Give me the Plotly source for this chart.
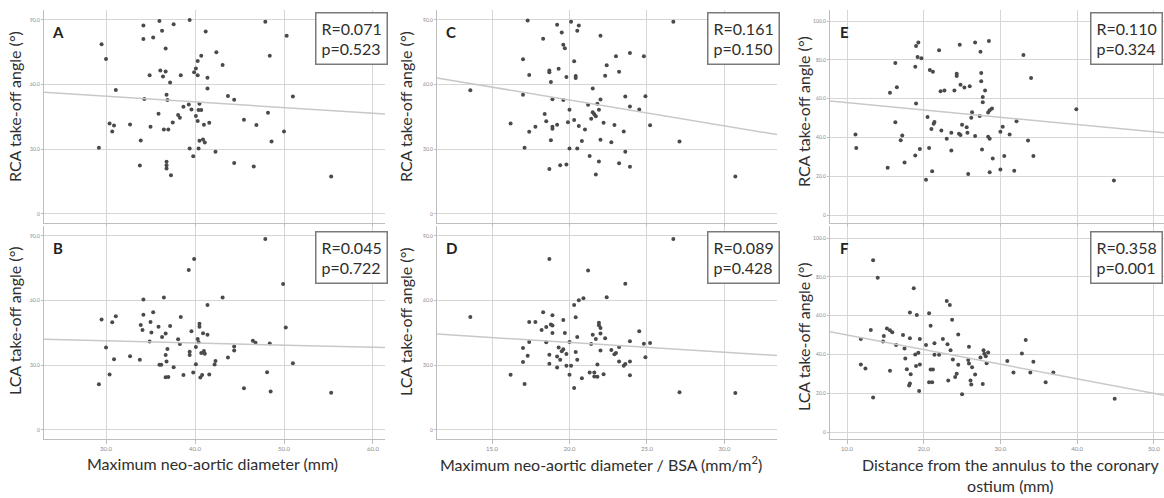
import plotly.graph_objects as go
from plotly.subplots import make_subplots

# ---- data ----
A_X = [29.2, 29.5, 30.0, 31.1, 30.4, 30.9, 30.7, 32.7, 33.9, 33.8, 34.2, 34.2, 34.3, 34.9, 35.0, 35.3, 36.0, 36.3, 36.1, 36.4,
       36.7, 36.7, 37.2, 36.8, 36.9, 35.9, 36.5, 37.0, 36.8, 36.8, 36.8, 37.3, 37.6, 37.5, 38.1, 38.3, 38.4, 38.7, 39.3, 39.4,
       39.6, 39.4, 39.8, 39.9, 40.1, 40.3, 40.3, 40.1, 40.3, 40.4, 40.5, 40.7, 40.7, 41.2, 41.4, 41.4, 41.0, 41.6, 40.4, 40.5,
       40.9, 41.1, 42.3, 42.4, 43.1, 43.7, 44.4, 44.4, 45.5, 46.6, 46.9, 47.9, 48.4, 48.2, 48.6, 50.0, 50.3, 51.0, 55.3]
A_Y = [30.7, 78.7, 71.9, 57.5, 42.0, 41.0, 38.3, 41.5, 34.1, 22.5, 87.4, 81.2, 53.3, 64.3, 40.4, 81.8, 89.5, 85.0, 66.5, 63.7,
       66.1, 76.7, 61.0, 55.3, 52.8, 46.5, 39.2, 39.2, 24.2, 22.6, 21.1, 18.0, 88.0, 42.4, 45.9, 44.6, 64.3, 49.7, 50.8, 90.0,
       48.5, 30.4, 26.8, 65.7, 67.5, 71.0, 64.3, 45.4, 43.1, 48.2, 51.1, 48.2, 73.4, 84.6, 63.2, 58.2, 41.4, 42.3, 30.4, 33.9,
       34.5, 33.1, 28.8, 75.0, 69.1, 54.7, 53.0, 23.6, 43.7, 22.0, 41.2, 89.2, 73.4, 46.9, 33.6, 38.3, 82.7, 54.5, 17.4]

B_X = [29.2, 29.5, 30.0, 30.4, 30.7, 30.9, 31.1, 32.7, 33.8, 33.9, 34.1, 34.2, 34.2, 34.9, 35.0, 35.1, 35.3, 35.9, 36.0, 36.2,
       36.3, 36.5, 36.7, 36.7, 36.8, 36.9, 36.7, 37.0, 37.2, 37.6, 38.1, 38.3, 38.4, 38.7, 39.3, 39.4, 39.4, 39.6, 39.8, 39.9,
       40.1, 40.1, 40.3, 40.4, 40.5, 40.5, 40.6, 40.7, 40.8, 40.9, 41.0, 41.1, 41.4, 41.4, 41.6, 42.2, 42.3, 43.1, 43.7, 44.4,
       44.4, 45.5, 46.5, 46.8, 47.9, 48.1, 48.4, 48.5, 49.9, 50.2, 51.0, 55.3]
B_Y = [21.2, 51.2, 38.2, 25.7, 50.0, 32.8, 52.7, 34.2, 32.6, 48.7, 46.4, 60.5, 53.4, 41.0, 50.1, 45.2, 54.6, 47.9, 30.2, 30.2,
       43.1, 61.4, 44.7, 34.8, 31.7, 37.6, 24.4, 24.6, 48.2, 29.1, 42.1, 39.9, 52.4, 25.5, 74.2, 36.3, 34.8, 45.8, 26.6, 79.3,
       38.5, 30.5, 42.2, 40.7, 47.9, 49.3, 24.3, 35.7, 25.5, 44.8, 36.6, 35.4, 58.0, 44.1, 25.7, 30.3, 32.0, 61.4, 33.6, 38.7,
       36.8, 19.3, 41.4, 40.5, 88.6, 26.8, 40.1, 17.8, 67.7, 47.5, 30.9, 17.2]

C_X = [13.6, 16.2, 17.0, 17.0, 17.1, 17.3, 17.4, 17.4, 17.8, 18.3, 18.7, 18.7, 18.8, 18.9, 18.4, 18.5, 18.9, 18.9, 19.2, 18.8,
       18.7, 19.2, 19.5, 19.3, 19.6, 19.7, 19.6, 19.4, 19.8, 19.8, 20.0, 19.9, 20.0, 20.1, 20.3, 20.4, 20.4, 20.3, 20.5, 20.5,
       20.6, 20.6, 20.8, 21.0, 21.2, 21.3, 21.4, 21.5, 21.5, 21.6, 21.7, 21.7, 21.8, 21.9, 21.9, 22.0, 22.0, 22.0, 22.2, 22.3,
       22.4, 22.7, 22.9, 23.0, 23.2, 23.2, 23.5, 23.6, 23.6, 23.9, 23.9, 23.9, 24.5, 24.8, 24.9, 25.2, 26.7, 27.1, 30.7]
C_Y = [57.4, 41.9, 71.8, 55.3, 30.7, 89.7, 38.1, 64.5, 40.5, 81.3, 66.5, 65.7, 61.2, 53.2, 46.4, 43.0, 40.5, 39.5, 41.4, 34.2,
       20.8, 87.8, 84.2, 67.4, 78.5, 76.8, 52.8, 22.6, 22.9, 63.5, 48.3, 42.5, 30.3, 89.1, 70.8, 64.0, 63.1, 43.6, 30.3, 85.0,
       87.4, 40.8, 33.8, 39.2, 50.7, 26.9, 44.2, 58.2, 47.2, 46.2, 45.3, 18.3, 51.1, 24.3, 48.3, 82.7, 53.1, 34.4, 42.3, 64.1,
       69.0, 33.3, 41.2, 73.2, 66.0, 23.5, 38.3, 28.9, 54.5, 49.8, 74.7, 21.9, 48.4, 73.2, 54.6, 41.1, 89.1, 33.6, 17.4]

D_X = [13.6, 16.2, 17.0, 17.0, 17.1, 17.3, 17.4, 17.4, 17.8, 18.3, 18.2, 18.5, 18.5, 18.7, 18.8, 18.9, 18.9, 18.9, 18.7, 18.7,
       19.2, 19.2, 19.3, 19.4, 19.5, 19.6, 19.7, 19.6, 19.8, 19.8, 20.1, 20.0, 20.0, 20.3, 20.3, 20.4, 20.4, 20.5, 20.5, 20.6,
       20.8, 20.9, 21.2, 21.3, 21.4, 21.5, 21.6, 21.6, 21.7, 21.8, 21.8, 21.9, 21.9, 22.0, 22.0, 22.0, 22.2, 22.3, 22.4, 22.7,
       22.9, 23.0, 23.2, 23.2, 23.5, 23.6, 23.6, 23.9, 23.9, 23.9, 24.5, 24.8, 24.9, 25.2, 26.7, 27.1, 30.7]
D_Y = [52.4, 25.6, 38.0, 31.5, 21.3, 34.4, 40.8, 50.1, 50.1, 54.6, 46.4, 47.8, 40.7, 79.3, 48.9, 48.4, 53.2, 45.0, 34.9, 30.7,
       34.1, 29.0, 38.3, 32.6, 36.5, 51.0, 45.0, 37.4, 35.2, 29.8, 29.8, 25.6, 40.8, 19.4, 57.9, 52.3, 36.2, 43.1, 32.6, 60.2,
       24.0, 61.1, 74.0, 26.7, 39.9, 44.2, 26.7, 24.8, 42.2, 30.3, 24.7, 49.7, 48.6, 47.3, 44.7, 36.9, 25.8, 42.5, 61.6, 37.1,
       35.1, 35.7, 38.5, 31.8, 29.8, 30.6, 67.8, 41.1, 31.8, 25.4, 45.8, 40.0, 33.7, 40.3, 88.6, 17.5, 17.1]

E_X = [11.1, 11.2, 15.3, 15.6, 16.3, 16.5, 16.3, 17.0, 17.2, 17.5, 18.9, 18.9, 19.0, 19.3, 19.2, 19.7, 19.0, 19.5, 20.3, 20.5,
       20.7, 21.0, 20.8, 21.2, 21.1, 21.3, 21.4, 22.0, 22.2, 22.7, 22.3, 23.0, 23.6, 23.6, 24.0, 24.3, 24.3, 24.7, 24.8, 24.6,
       24.8, 25.0, 25.3, 25.6, 25.7, 25.8, 26.0, 26.2, 26.3, 26.7, 26.7, 27.3, 27.4, 27.5, 27.5, 27.7, 27.7, 27.6, 28.0, 28.4,
       28.6, 28.9, 28.5, 28.4, 28.6, 28.6, 29.0, 30.0, 30.0, 30.3, 30.5, 31.2, 31.8, 32.1, 33.0, 33.6, 34.0, 34.3, 39.9, 44.8]
E_Y = [41.5, 34.6, 24.4, 63.1, 78.4, 65.9, 47.9, 38.6, 41.0, 27.1, 30.7, 76.5, 87.1, 89.0, 81.5, 80.8, 57.5, 34.0, 18.2, 50.6,
       34.5, 44.4, 74.8, 73.9, 22.6, 47.0, 48.0, 84.9, 63.8, 64.2, 43.6, 39.3, 42.4, 33.3, 64.2, 72.9, 71.7, 87.8, 67.2, 41.9,
       41.3, 46.5, 65.7, 45.3, 42.4, 21.1, 66.4, 50.1, 53.0, 88.9, 40.7, 51.1, 84.2, 73.2, 69.0, 58.1, 60.9, 33.8, 64.2, 52.8,
       54.0, 54.9, 89.7, 40.3, 39.3, 22.1, 29.2, 23.5, 42.9, 45.5, 30.5, 41.5, 22.8, 48.4, 82.5, 38.4, 70.7, 30.5, 54.5, 17.8]

F_X = [11.8, 11.8, 12.4, 13.1, 13.4, 13.4, 14.0, 14.7, 14.8, 15.2, 15.6, 15.6, 15.9, 16.4, 17.3, 17.5, 17.6, 17.8, 18.2, 18.2,
       18.3, 18.2, 18.1, 18.7, 18.9, 19.1, 19.3, 19.5, 19.5, 19.4, 19.0, 20.3, 20.7, 20.9, 20.9, 21.2, 20.7, 21.1, 21.4, 21.4,
       22.0, 22.5, 23.0, 23.1, 23.2, 23.4, 23.5, 23.7, 23.8, 24.1, 24.3, 24.5, 24.5, 25.0, 25.9, 25.8, 25.9, 26.1, 26.2, 26.3,
       26.7, 27.7, 27.4, 27.8, 27.9, 28.1, 28.2, 28.4, 30.9, 31.7, 32.8, 33.3, 33.9, 34.3, 35.9, 36.9, 44.9]
F_Y = [47.9, 34.8, 32.8, 52.6, 88.6, 17.8, 79.5, 46.6, 49.5, 53.3, 52.4, 31.6, 51.4, 44.8, 50.0, 43.1, 37.9, 32.4, 61.6, 48.3,
       29.8, 25.0, 24.0, 74.1, 40.0, 60.3, 40.9, 47.9, 34.8, 21.2, 34.0, 44.8, 61.2, 54.8, 32.2, 32.2, 25.7, 25.7, 45.7, 39.8,
       39.8, 47.9, 67.6, 45.2, 26.6, 65.5, 42.1, 57.9, 37.4, 28.4, 30.0, 50.3, 34.7, 19.5, 44.0, 37.1, 35.3, 26.6, 24.5, 33.4,
       29.7, 24.7, 38.4, 42.2, 40.3, 39.1, 35.5, 41.0, 36.6, 30.7, 40.5, 47.4, 30.7, 36.2, 25.7, 30.7, 17.1]

# fit lines (slope, intercept) as drawn in the figure
FIT_SLOPE = {"A": -0.264, "B": -0.101, "C": -1.198, "D": -0.455, "E": -0.376, "F": -0.751}
FIT_INTERCEPT = {"A": 62.5, "B": 44.4, "C": 76.8, "D": 49.7, "E": 61.7, "F": 57.5}

STAT_R = {"A": "0.071", "B": "0.045", "C": "0.161", "D": "0.089", "E": "0.110", "F": "0.358"}
STAT_P = {"A": "0.523", "B": "0.722", "C": "0.150", "D": "0.428", "E": "0.324", "F": "0.001"}

X_TICKS = [[30, 40, 50, 60], [15, 20, 25, 30], [10, 20, 30, 40, 50]]
X_TICKTEXT = [["30.0", "40.0", "50.0", "60.0"], ["15.0", "20.0", "25.0", "30.0"],
              ["10.0", "20.0", "30.0", "40.0", "50.0"]]
Y_TICKS_90 = [0, 30, 60, 90]
Y_TICKTEXT_90 = ["0", "30.0", "60.0", "90.0"]
Y_TICKS_100 = [0, 20, 40, 60, 80, 100]
Y_TICKTEXT_100 = ["0", "20.0", "40.0", "60.0", "80.0", "100.0"]

X_TITLES = ["Maximum neo-aortic diameter (mm)",
            "Maximum neo-aortic diameter / BSA (mm/m<sup>2</sup>)",
            "Distance from the annulus to the coronary<br>ostium (mm)"]
Y_TITLES = ["RCA take-off angle (°)", "LCA take-off angle (°)"]

# ---- layout in pixels ----
W, H = 1164, 498


def px(x):
    return x / W


def py(y):
    return 1 - y / H


COL_PX = [(44, 385), (437, 777), (830, 1164)]
ROW_PX = [(10, 223), (226, 439)]
X_RANGES = [[23.03, 61.35], [11.45, 33.39], [7.78, 51.33]]

panels = [  # letter, row, col, x, y, yrange
    ("A", 1, 1, A_X, A_Y, [-4.2, 94.6]),
    ("C", 1, 2, C_X, C_Y, [-4.2, 94.6]),
    ("E", 1, 3, E_X, E_Y, [-4.1, 105.7]),
    ("B", 2, 1, B_X, B_Y, [-4.2, 94.6]),
    ("D", 2, 2, D_X, D_Y, [-4.2, 94.6]),
    ("F", 2, 3, F_X, F_Y, [-3.6, 106.2]),
]

FONT = "Lato, 'Open Sans', sans-serif"
TEXT = "#2e2e2e"
GRID = "#d6d6d6"
AXIS = "#bdbdbd"

fig = make_subplots(rows=2, cols=3)
annotations = []

for letter, row, col, xs, ys, yrange in panels:
    xr = X_RANGES[col - 1]
    fig.add_trace(go.Scatter(x=xs, y=ys, mode="markers",
                             marker=dict(size=4, color="#4a4a4a"),
                             showlegend=False), row=row, col=col)
    line_x = xr
    line_y = [FIT_INTERCEPT[letter] + FIT_SLOPE[letter] * v for v in line_x]
    fig.add_trace(go.Scatter(x=line_x, y=line_y, mode="lines",
                             line=dict(color="#c8c8c8", width=1.5),
                             showlegend=False, hoverinfo="skip"), row=row, col=col)

    x0, x1 = COL_PX[col - 1]
    y0, y1 = ROW_PX[row - 1]
    fig.update_xaxes(domain=[px(x0), px(x1)], range=xr,
                     tickvals=X_TICKS[col - 1], ticktext=X_TICKTEXT[col - 1],
                     showticklabels=(row == 2),
                     showgrid=True, gridcolor=GRID, gridwidth=1.2, zeroline=False,
                     showline=True, linecolor=AXIS, linewidth=1.2,
                     ticks="outside", ticklen=4, tickcolor=AXIS,
                     tickfont=dict(size=6, color="#8a8a8a"),
                     row=row, col=col)
    if col == 3:
        yt, ytt = Y_TICKS_100, Y_TICKTEXT_100
    else:
        yt, ytt = Y_TICKS_90, Y_TICKTEXT_90
    fig.update_yaxes(domain=[py(y1), py(y0)], range=yrange,
                     tickvals=yt, ticktext=ytt,
                     showgrid=True, gridcolor=GRID, gridwidth=1.2, zeroline=False,
                     showline=True, linecolor=AXIS, linewidth=1.2,
                     ticks="outside", ticklen=2, tickcolor=AXIS,
                     tickfont=dict(size=5, color="#8a8a8a"),
                     row=row, col=col)

    # panel letter
    annotations.append(dict(x=px(x0 + 14), y=py(y0 + 22), xref="paper", yref="paper",
                            xanchor="center", yanchor="middle",
                            text="<b>%s</b>" % letter, showarrow=False,
                            font=dict(family=FONT, size=15, color="#222")))
    # stats box
    annotations.append(dict(x=px(min(x1 + 3, W - 1)), y=py(y0 + (2 if row == 1 else 5)),
                            xref="paper", yref="paper",
                            xanchor="right", yanchor="top", align="left",
                            text="R=%s<br>p=%s" % (STAT_R[letter], STAT_P[letter]),
                            showarrow=False, bgcolor="white",
                            bordercolor="#7a7a7a", borderwidth=1.5, borderpad=5,
                            font=dict(family=FONT, size=16, color=TEXT)))

# axis titles
Y_TITLE_POS = [(14, 107, 321), (405, 107, 322), (803, 112, 337)]
for xpix, ytop, ybot in Y_TITLE_POS:
    for text, ypix in zip(Y_TITLES, (ytop, ybot)):
        annotations.append(dict(x=px(xpix), y=py(ypix), xref="paper", yref="paper",
                                xanchor="center", yanchor="middle",
                                text=text, textangle=-90, showarrow=False,
                                font=dict(family=FONT, size=16, color=TEXT)))

X_TITLE_POS = [(212, 463), (601, 463), (1010, 475)]
for text, (xpix, ypix) in zip(X_TITLES, X_TITLE_POS):
    annotations.append(dict(x=px(xpix), y=py(ypix), xref="paper", yref="paper",
                            xanchor="center", yanchor="middle",
                            text=text, showarrow=False,
                            font=dict(family=FONT, size=16, color=TEXT)))

fig.update_layout(
    width=W, height=H,
    margin=dict(l=0, r=0, t=0, b=0),
    paper_bgcolor="white", plot_bgcolor="white",
    annotations=annotations,
    font=dict(family=FONT),
)

# drop the browser's default body margin so the figure sits at the page origin
fig.write_html("out.html", config={"displayModeBar": False},
               post_script="document.body.style.margin='0px';")
